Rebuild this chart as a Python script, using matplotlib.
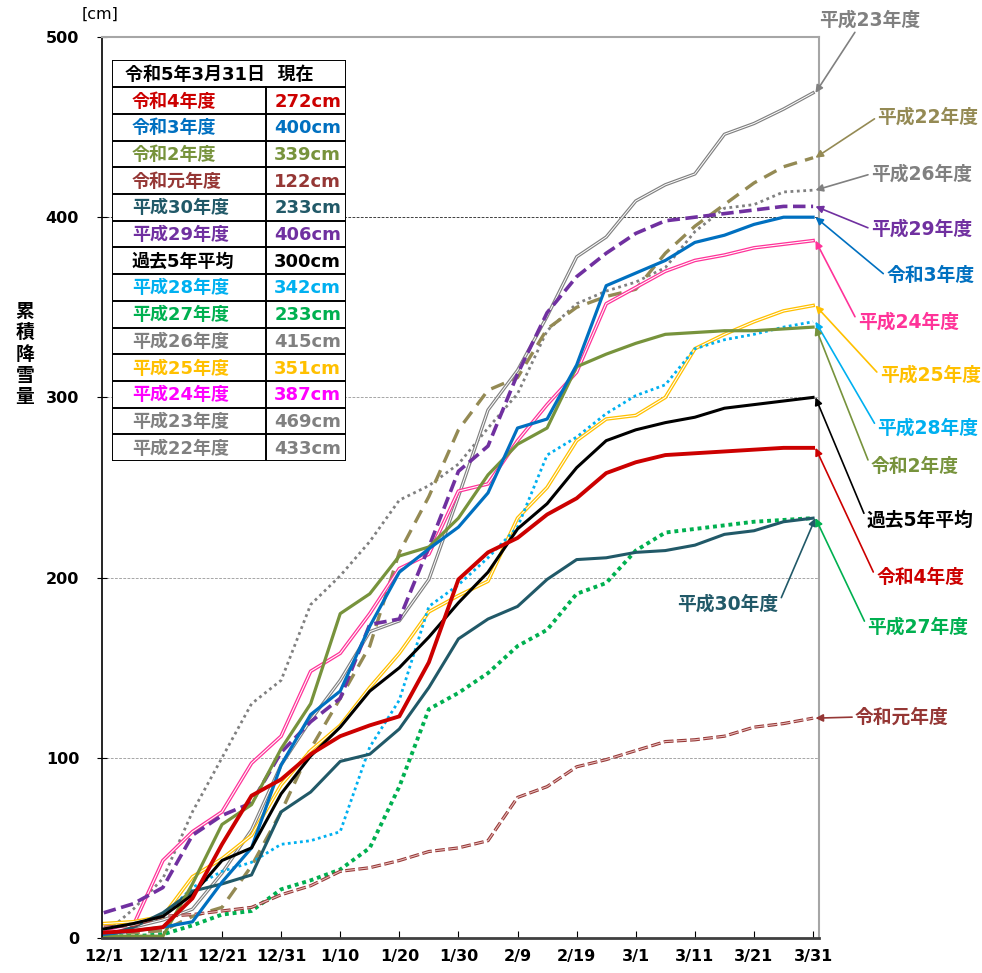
import matplotlib
matplotlib.use('Agg')
import matplotlib.pyplot as plt

plt.rcParams['font.family'] = ['DejaVu Sans', 'Noto Sans CJK JP']
plt.rcParams['lines.scale_dashes'] = False

# day index counted from 12/1 (0) up to 3/31 (120), read every 5 days
days = list(range(0, 121, 5))
tick_days = list(range(0, 121, 10))
tick_labels = ['12/1', '12/11', '12/21', '12/31', '1/10', '1/20', '1/30',
               '2/9', '2/19', '3/1', '3/11', '3/21', '3/31']

# cumulative snowfall [cm]
h22 = [2, 3, 4, 12, 17, 40, 70, 105, 133, 162, 214, 245, 282, 304, 311, 338, 350, 356, 360, 380, 395, 407, 419, 428, 433]
h23 = [3, 6, 10, 16, 36, 60, 96, 121, 143, 170, 176, 199, 245, 293, 315, 345, 378, 389, 409, 418, 424, 446, 452, 460, 469]
h24 = [3, 7, 43, 59, 70, 97, 112, 148, 158, 180, 205, 213, 248, 252, 276, 296, 314, 352, 361, 370, 376, 379, 383, 385, 387]
h25 = [8, 9, 12, 34, 44, 57, 85, 104, 118, 139, 158, 181, 190, 198, 233, 250, 276, 288, 290, 300, 327, 335, 342, 348, 351]
h26 = [2, 16, 33, 70, 100, 130, 143, 185, 201, 220, 243, 251, 263, 283, 302, 337, 352, 359, 364, 372, 392, 405, 407, 414, 415]
h27 = [1, 1, 2, 7, 13, 15, 27, 32, 38, 50, 84, 127, 136, 147, 162, 171, 191, 197, 215, 225, 227, 229, 231, 232, 233]
h28 = [5, 8, 12, 28, 37, 42, 52, 54, 59, 106, 132, 184, 196, 211, 228, 268, 278, 291, 301, 307, 327, 332, 335, 339, 342]
h29 = [14, 19, 28, 57, 68, 75, 103, 120, 133, 174, 177, 217, 259, 273, 313, 347, 367, 380, 391, 398, 400, 402, 404, 406, 406]
h30 = [1, 6, 14, 26, 30, 35, 70, 81, 98, 102, 116, 139, 166, 177, 184, 199, 210, 211, 214, 215, 218, 224, 226, 231, 233]
r1 = [6, 7, 12, 13, 15, 17, 24, 29, 37, 39, 43, 48, 50, 54, 78, 84, 95, 99, 104, 109, 110, 112, 117, 119, 122]
r2 = [1, 1, 1, 30, 63, 74, 105, 130, 180, 191, 212, 217, 233, 257, 274, 283, 317, 324, 330, 335, 336, 337, 337, 338, 339]
r3 = [2, 4, 6, 9, 31, 50, 96, 124, 137, 173, 203, 216, 228, 247, 283, 288, 318, 362, 369, 376, 386, 390, 396, 400, 400]
r4 = [3, 4, 6, 22, 52, 79, 88, 102, 112, 118, 123, 153, 199, 214, 222, 235, 244, 258, 264, 268, 269, 270, 271, 272, 272]
avg5 = [5, 8, 12, 24, 43, 50, 80, 101, 117, 137, 150, 167, 186, 203, 227, 241, 261, 276, 282, 286, 289, 294, 296, 298, 300]

# table in the upper left
table_names = ['令和4年度', '令和3年度', '令和2年度', '令和元年度', '平成30年度', '平成29年度', '過去5年平均',
               '平成28年度', '平成27年度', '平成26年度', '平成25年度', '平成24年度', '平成23年度', '平成22年度']
table_values = [272, 400, 339, 122, 233, 406, 300, 342, 233, 415, 351, 387, 469, 433]
table_colors = ['#CC0000', '#0070C0', '#77933C', '#953735', '#215968', '#7030A0', '#000000',
                '#00B0F0', '#00B050', '#808080', '#FFC000', '#FF00FF', '#808080', '#808080']

fig = plt.figure(figsize=(9.82, 9.73), dpi=100)
ax = fig.add_axes([102 / 982, 1 - 938 / 973, 717 / 982, 901 / 973])
ax.set_xlim(-0.3, 121)
ax.set_ylim(0, 500)


def draw(vals, color, lw, dashes=None, double=False, inner=None):
    line, = ax.plot(days, vals, color=color, lw=lw, solid_joinstyle='round')
    if dashes is not None:
        line.set_dashes(dashes)
    if double:
        ax.plot(days, vals, color='white', lw=lw * 0.3)
    if inner is not None:
        l2, = ax.plot(days, vals, color=inner, lw=lw * 0.35)
        l2.set_dashes(dashes)


draw(h26, '#808080', 2.0, dashes=(2, 2.6))
draw(h22, '#948A54', 2.4, dashes=(10, 6))
draw(h23, '#808080', 2.4, double=True)
draw(h24, '#FF3399', 2.6, double=True)
draw(h25, '#FFC000', 2.6, double=True)
draw(h27, '#00B050', 2.8, dashes=(2.8, 2.8))
draw(h28, '#00B0F0', 2.0, dashes=(2, 2.4))
draw(h29, '#7030A0', 2.6, dashes=(9, 4))
draw(h30, '#215968', 2.2)
draw(r1, '#953735', 2.3, dashes=(7, 2.5), inner='#E6B9B8')
draw(r2, '#77933C', 2.3)
draw(r3, '#0070C0', 2.3)
draw(avg5, '#000000', 2.2)
draw(r4, '#CC0000', 2.8)

# horizontal guide lines
for lev, c in [(100, '#A6A6A6'), (200, '#A6A6A6'), (300, '#A6A6A6'), (400, '#404040')]:
    ax.axhline(lev, color=c, lw=0.7, dashes=(2, 1), zorder=0)

ax.set_xticks(tick_days)
ax.set_xticklabels(tick_labels)
ax.set_yticks([0, 100, 200, 300, 400, 500])
ax.tick_params(axis='x', direction='in', length=5, pad=8, labelsize=11.5)
ax.tick_params(axis='y', direction='inout', length=7, pad=13, labelsize=11.5)
for t in ax.get_xticklabels() + ax.get_yticklabels():
    t.set_fontweight('bold')
ax.spines['left'].set_color('#000000')
ax.spines['left'].set_linewidth(1.2)
ax.spines['bottom'].set_color('#404040')
ax.spines['bottom'].set_linewidth(2)
for s in ['top', 'right']:
    ax.spines[s].set_color('#A6A6A6')
    ax.spines[s].set_linewidth(1.5)

fig.text(100 / 982, 1 - 14 / 973, '[cm]', ha='center', va='center', fontsize=11.5)
fig.text(25 / 982, 1 - 354 / 973, '\n'.join('累積降雪量'), ha='center', va='center',
         fontsize=13.5, fontweight='bold', linespacing=1.15)

# callout labels on the right
callouts = [
    ('平成23年度', h23, '#808080', 129.6, 509.4, (0.37, 0.0)),
    ('平成22年度', h22, '#948A54', 139.4, 455.6, (0.0, 0.5)),
    ('平成26年度', h26, '#808080', 138.3, 424.0, (0.0, 0.5)),
    ('平成29年度', h29, '#7030A0', 138.3, 393.5, (0.0, 0.5)),
    ('令和3年度', r3, '#0070C0', 139.8, 367.4, (0.0, 0.5)),
    ('平成24年度', h24, '#FF3399', 136.1, 341.8, (0.0, 0.5)),
    ('平成25年度', h25, '#FFC000', 139.8, 312.4, (0.0, 0.5)),
    ('平成28年度', h28, '#00B0F0', 139.4, 283.0, (0.0, 0.5)),
    ('令和2年度', r2, '#77933C', 137.2, 261.4, (0.0, 0.5)),
    ('過去5年平均', avg5, '#000000', 138.1, 232.0, (0.0, 0.5)),
    ('令和4年度', r4, '#CC0000', 138.1, 199.8, (0.0, 0.5)),
    ('平成30年度', h30, '#215968', 105.6, 185.3, (1.0, 0.5)),
    ('平成27年度', h27, '#00B050', 137.7, 172.6, (0.0, 0.5)),
    ('令和元年度', r1, '#953735', 135.0, 122.6, (0.0, 0.5)),
]
for name, vals, c, tx, ty, rp in callouts:
    ax.annotate(name, xy=(days[-1] + 0.4, vals[-1]), xytext=(tx, ty), textcoords='data',
                ha='center', va='center', color=c, fontsize=13.5, fontweight='bold',
                annotation_clip=False,
                arrowprops=dict(arrowstyle='-|>', color=c, lw=1.2, relpos=rp,
                                shrinkA=0, shrinkB=0, mutation_scale=11))

# table
tab = fig.add_axes([112 / 982, 1 - 461 / 973, 234 / 982, 401 / 973])
tab.set_xlim(0, 234)
tab.set_ylim(401, 0)
tab.axis('off')
tab.add_patch(plt.Rectangle((0, 0), 234, 401, facecolor='white', edgecolor='black', lw=1.4))
head_h = 27.3
row_h = (401 - head_h) / len(table_names)
tab.text(13, head_h / 2 + 1, '令和5年3月31日  現在', ha='left', va='center', fontsize=13,
         fontweight='bold', color='black')
tab.plot([153.7, 153.7], [head_h, 401], color='black', lw=1.4)
for i, (nm, v, c) in enumerate(zip(table_names, table_values, table_colors)):
    y0 = head_h + i * row_h
    tab.plot([0, 234], [y0, y0], color='black', lw=1.4)
    tab.text(20, y0 + row_h / 2 + 1, nm, ha='left', va='center', fontsize=13,
             fontweight='bold', color=c)
    tab.text(229, y0 + row_h / 2 + 1, f'{v}cm', ha='right', va='center', fontsize=13,
             fontweight='bold', color=c)

fig.savefig('out.png', dpi=100)
